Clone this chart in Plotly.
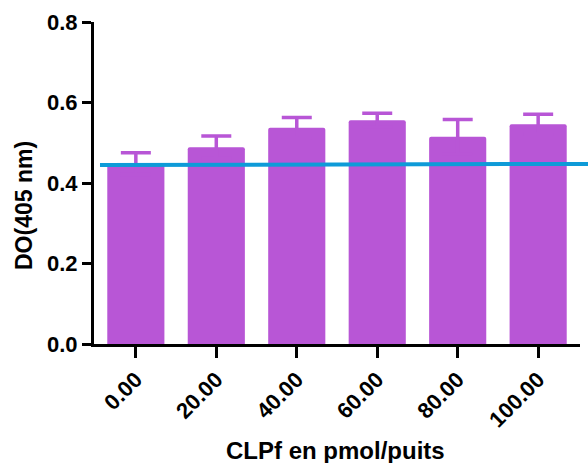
import plotly.graph_objects as go

categories = ["0.00", "20.00", "40.00", "60.00", "80.00", "100.00"]
means = [0.448, 0.489, 0.537, 0.556, 0.515, 0.546]
errors_up = [0.027, 0.028, 0.026, 0.017, 0.043, 0.025]
baseline = [0.4445, 0.4475]  # reference line value at its left and right end

BAR = "#b856d6"
BLUE = "#0e9bd8"
FONT = "Liberation Sans, Arial, sans-serif"

fig = go.Figure()
fig.add_trace(go.Bar(
    x=categories, y=means, width=0.71,
    marker=dict(color=BAR, line=dict(width=0), cornerradius=2),
    error_y=dict(type="data", array=errors_up, symmetric=True,
                 color=BAR, thickness=3.5, width=15),
))

fig.add_shape(type="line", xref="paper", yref="y",
              x0=(100 - 94) / 486, x1=(588 - 94) / 486,
              y0=baseline[0], y1=baseline[1],
              line=dict(color=BLUE, width=4), layer="above")

fig.update_layout(
    width=588, height=463,
    margin=dict(l=94, r=8, t=22, b=119),
    paper_bgcolor="white", plot_bgcolor="white",
    showlegend=False,
    font=dict(family=FONT, color="black"),
    xaxis=dict(
        type="category", range=[-0.52, 5.52],
        showline=True, linecolor="black", linewidth=3,
        ticks="outside", ticklen=11, tickwidth=3, tickcolor="black",
        tickangle=-45, tickfont=dict(size=22, family=FONT, color="black", weight="bold"),
        showgrid=False, zeroline=False,
    ),
    yaxis=dict(
        range=[0, 0.8], tickvals=[0, 0.2, 0.4, 0.6, 0.8],
        ticktext=["0.0", "0.2", "0.4", "0.6", "0.8"],
        showline=True, linecolor="black", linewidth=3,
        ticks="outside", ticklen=9, tickwidth=3, tickcolor="black",
        tickfont=dict(size=22, family=FONT, color="black", weight="bold"),
        showgrid=False, zeroline=False,
    ),
    annotations=[
        dict(text="<b>CLPf en pmol/puits</b>", xref="paper", yref="paper",
             x=(335 - 94) / 486, y=(344 - 450) / 322, xanchor="center", yanchor="middle",
             showarrow=False, font=dict(size=24, family=FONT, color="black")),
        dict(text="<b>DO(405 nm)</b>", xref="paper", yref="paper",
             x=(24 - 94) / 486, y=(344 - 206) / 322, xanchor="center", yanchor="middle",
             textangle=-90, showarrow=False, font=dict(size=23, family=FONT, color="black")),
    ],
)

fig.write_html("out.html", config={"displayModeBar": False},
               post_script="document.body.style.margin='0';document.body.style.overflow='hidden';")
